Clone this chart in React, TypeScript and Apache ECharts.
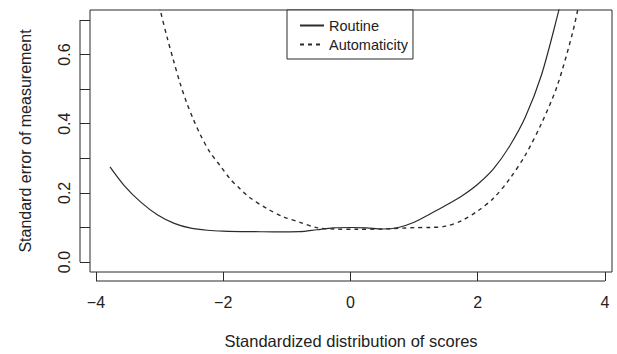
import React, { useEffect, useRef } from "react";
import * as echarts from "echarts";

const routineX = [-3.78, -3.56, -3.3, -3.03, -2.77, -2.51, -2.25, -2.0, -1.6, -1.2, -0.8, -0.53, -0.27, 0.0, 0.25, 0.5, 0.75, 1.0, 1.25, 1.5, 1.75, 2.0, 2.25, 2.5, 2.75, 3.0, 3.25, 3.35];
const routineY = [0.275, 0.222, 0.174, 0.136, 0.112, 0.098, 0.092, 0.0895, 0.088, 0.0875, 0.088, 0.0935, 0.099, 0.1, 0.099, 0.0956, 0.1, 0.115, 0.139, 0.164, 0.191, 0.225, 0.27, 0.335, 0.42, 0.54, 0.71, 0.79];

const autoX = [-3.08, -2.99, -2.88, -2.785, -2.68, -2.575, -2.47, -2.365, -2.21, -2.05, -1.894, -1.737, -1.58, -1.317, -1.056, -0.794, -0.531, -0.27, 0.1, 0.5, 1.0, 1.25, 1.5, 1.75, 2.0, 2.25, 2.5, 2.75, 3.0, 3.25, 3.5, 3.62];
const autoY = [0.81, 0.729, 0.648, 0.585, 0.518, 0.461, 0.413, 0.37, 0.318, 0.279, 0.241, 0.212, 0.186, 0.155, 0.131, 0.115, 0.0995, 0.0956, 0.0947, 0.0956, 0.0995, 0.1, 0.104, 0.12, 0.148, 0.185, 0.24, 0.31, 0.4, 0.51, 0.67, 0.775];

const xTicks = [-4, -2, 0, 2, 4];
const yTicks = [0, 0.1, 0.2, 0.3, 0.4, 0.5, 0.6, 0.7];
const yLabels = [0, 0.2, 0.4, 0.6];

const X_MIN = -4.094;
const X_MAX = 4.11;
const Y_MIN = -0.0287;
const Y_MAX = 0.7287;

const FONT = "'Liberation Sans', Arial, sans-serif";
const INK = "#2b2b2b";
const TXT = "#222";

export default function App() {
  const ref = useRef<HTMLDivElement>(null);
  useEffect(() => {
    if (!ref.current) return;
    const chart = echarts.init(ref.current, null, { renderer: "svg" });
    const zip = (xs: number[], ys: number[]) => xs.map((x, i) => [x, ys[i]]);
    chart.setOption({
      animation: false,
      backgroundColor: "#fff",
      textStyle: { fontFamily: FONT },
      grid: {
        left: 90,
        top: 10,
        width: 522,
        height: 264,
        show: true,
        borderColor: INK,
        borderWidth: 1,
        backgroundColor: "transparent",
      },
      legend: {
        left: 287,
        top: 10,
        orient: "vertical",
        itemWidth: 24,
        itemHeight: 14,
        itemGap: 4,
        padding: [8, 5, 7, 12],
        borderColor: INK,
        borderWidth: 1,
        backgroundColor: "#fff",
        itemStyle: { opacity: 0 },
        textStyle: { fontSize: 14.5, color: TXT, fontFamily: FONT },
        data: ["Routine", "Automaticity"],
      },
      xAxis: {
        type: "value",
        min: X_MIN,
        max: X_MAX,
        offset: 9,
        name: "Standardized distribution of scores",
        nameLocation: "middle",
        nameGap: 51,
        nameTextStyle: { fontSize: 16.5, color: TXT, fontFamily: FONT },
        axisLine: { show: false, onZero: false },
        splitLine: { show: false },
        axisTick: {
          show: true,
          inside: true,
          length: 9,
          customValues: xTicks,
          lineStyle: { color: INK, width: 1 },
        },
        axisLabel: {
          customValues: xTicks,
          fontSize: 16,
          color: TXT,
          margin: 13,
          fontFamily: FONT,
          formatter: (v: number) => (v < 0 ? "\u2212" + Math.abs(v) : String(v)),
        },
      },
      yAxis: {
        type: "value",
        min: Y_MIN,
        max: Y_MAX,
        offset: 10,
        name: "Standard error of measurement",
        nameLocation: "middle",
        nameRotate: 90,
        nameGap: 47,
        nameTextStyle: { fontSize: 16, color: TXT, fontFamily: FONT },
        axisLine: { show: false, onZero: false },
        splitLine: { show: false },
        axisTick: {
          show: true,
          inside: true,
          length: 10,
          customValues: yTicks,
          lineStyle: { color: INK, width: 1 },
        },
        axisLabel: {
          customValues: yLabels,
          rotate: 90,
          fontSize: 16,
          color: TXT,
          margin: 8,
          fontFamily: FONT,
          formatter: (v: number) => v.toFixed(1),
        },
      },
      series: [
        {
          name: "Routine",
          type: "line",
          data: zip(routineX, routineY),
          symbol: "none",
          smooth: 0.3,
          clip: true,
          lineStyle: { color: INK, width: 1.2, type: "solid" },
          itemStyle: { color: INK },
        },
        {
          name: "Automaticity",
          type: "line",
          data: zip(autoX, autoY),
          symbol: "none",
          smooth: 0.3,
          clip: true,
          lineStyle: { color: INK, width: 1.4, type: [4, 4] },
          itemStyle: { color: INK },
        },
      ],
    });
    const px = (x: number, y: number) =>
      chart.convertToPixel({ xAxisIndex: 0, yAxisIndex: 0 }, [x, y]) as number[];
    const yTop = px(0, yTicks[yTicks.length - 1]);
    const yBot = px(0, yTicks[0]);
    const gridLeft = px(X_MIN, 0)[0];
    const gridBottom = px(0, Y_MIN)[1];
    const xL = px(xTicks[0], 0)[0];
    const xR = px(xTicks[xTicks.length - 1], 0)[0];
    chart.setOption({
      graphic: [
        {
          type: "line",
          shape: { x1: gridLeft - 10, y1: yTop[1], x2: gridLeft - 10, y2: yBot[1] },
          style: { stroke: INK, lineWidth: 1 },
        },
        {
          type: "line",
          shape: { x1: xL, y1: gridBottom + 9, x2: xR, y2: gridBottom + 9 },
          style: { stroke: INK, lineWidth: 1 },
        },
      ],
    });
    return () => chart.dispose();
  }, []);
  return (
    <div
      ref={ref}
      style={{ position: "fixed", left: 0, top: 0, width: 617, height: 354 }}
    />
  );
}
